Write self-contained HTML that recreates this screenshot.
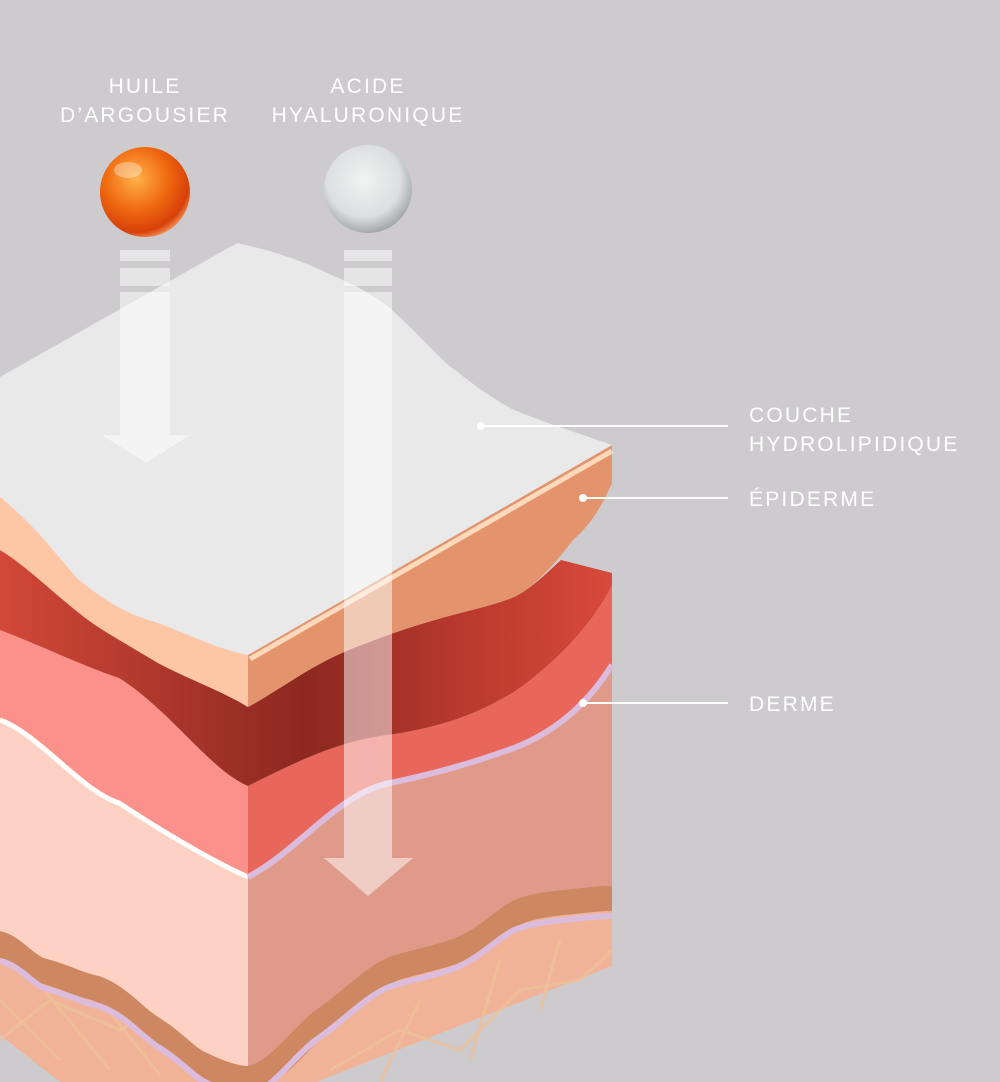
<!DOCTYPE html>
<html><head><meta charset="utf-8"><style>
html,body{margin:0;padding:0;background:#cdcbce;}
svg{display:block}
text{font-family:"Liberation Sans",sans-serif;fill:#fff;font-size:21px;letter-spacing:2.2px}
</style></head><body>
<svg width="1000" height="1082" viewBox="0 0 1000 1082" xmlns="http://www.w3.org/2000/svg">
<defs>
<radialGradient id="og" cx="0.4" cy="0.35" r="0.7">
<stop offset="0" stop-color="#ffb24a"/><stop offset="0.5" stop-color="#f06a10"/><stop offset="0.85" stop-color="#d8400a"/><stop offset="1" stop-color="#f7a060"/></radialGradient>
<radialGradient id="cg" cx="0.45" cy="0.4" r="0.7">
<stop offset="0" stop-color="#f2f3f3"/><stop offset="0.6" stop-color="#dcdedf"/><stop offset="0.9" stop-color="#9aa0a2"/><stop offset="1" stop-color="#e4e6e6"/></radialGradient>
<linearGradient id="dr" x1="0" y1="0" x2="1" y2="0">
<stop offset="0" stop-color="#d24838"/><stop offset="0.3" stop-color="#a8352a"/><stop offset="0.5" stop-color="#8c2820"/><stop offset="0.75" stop-color="#b8392d"/><stop offset="1" stop-color="#d84a3b"/></linearGradient>
</defs>
<rect width="1000" height="1082" fill="#cdcbce"/>

<path d="M0,900 L612,870 L612,966 L316,1082 L60,1082 L0,1035 Z" fill="#f1b397"/>
<g fill="none" stroke="#eec09a" stroke-width="3" opacity="0.8">
<path d="M0,1000 L60,1060 M40,985 L110,1070 M100,1000 L160,1075 M0,1040 L50,1000 L120,1030 L170,1000 M330,1070 L400,1030 L460,1050 L520,990 L580,980 L612,950 M380,1082 L420,1000 M470,1060 L500,960 M540,1010 L560,940"/>
</g>
<path d="M0,931 C20,935 35,957 47,959 C70,965 80,972 99,976 C125,985 140,1005 158,1017 C180,1030 195,1048 205,1052 C225,1062 240,1066 248,1066 C270,1062 295,1025 316,1010 C345,990 370,962 395,955 C420,948 440,944 455,938 C480,928 495,910 514,900 C535,892 555,891 573,889 C590,887 600,886 612,886" fill="none" stroke="#cd8862" stroke-width="50"/>
<path d="M0,931 C20,935 35,957 47,959 C70,965 80,972 99,976 C125,985 140,1005 158,1017 C180,1030 195,1048 205,1052 C225,1062 240,1066 248,1066 C270,1062 295,1025 316,1010 C345,990 370,962 395,955 C420,948 440,944 455,938 C480,928 495,910 514,900 C535,892 555,891 573,889 C590,887 600,886 612,886" fill="none" stroke="#dcbcdc" stroke-width="6" transform="translate(0,30)"/>

<path d="M0,720 C40,735 80,790 119,803 C160,830 210,860 248,874 L248,1066 C240,1066 225,1062 205,1052 C195,1048 180,1030 158,1017 C140,1005 125,985 99,976 C80,972 70,965 47,959 C35,957 20,935 0,931 Z" fill="#fdd2c4"/>
<path d="M248,874 C300,850 340,790 395,782 C450,770 480,760 514,748 C560,730 590,700 612,665 L612,886 C600,886 590,887 573,889 C555,891 535,892 514,900 C495,910 480,928 455,938 C440,944 420,948 395,955 C370,962 345,990 316,1010 C295,1025 270,1062 248,1066 Z" fill="#df9a8a"/>

<path d="M0,630 C40,645 80,665 119,678 C170,710 210,770 248,786 L248,877 C200,860 160,830 119,803 C80,790 40,735 0,720 Z" fill="#fb918a"/>
<path d="M248,786 C300,760 340,740 395,734 C450,725 480,712 514,692 C560,660 595,620 612,585 L612,665 C590,700 560,730 514,748 C480,760 450,770 395,782 C340,790 300,850 248,877 Z" fill="#e9665a"/>
<path d="M0,720 C40,735 80,790 119,803 C160,830 210,860 248,877" fill="none" stroke="#fff" stroke-width="5"/>
<path d="M248,877 C300,850 340,790 395,782 C450,770 480,760 514,748 C560,730 590,700 612,665" fill="none" stroke="#dcbcdc" stroke-width="6"/>

<path d="M0,550 C25,565 50,590 79,613 C100,630 120,640 158,663 C190,680 220,690 248,707 C280,690 310,665 356,647 C380,638 400,630 435,620 C460,612 490,607 514,597 C530,590 550,570 561,560 L612,573 L612,585 C595,620 560,660 514,692 C480,712 450,725 395,734 C340,740 300,760 248,786 C210,770 170,710 119,678 C80,665 40,645 0,630 Z" fill="url(#dr)"/>

<path d="M0,497 C40,530 60,560 79,580 C110,605 130,615 158,623 C190,635 220,650 248,655 L248,707 C220,690 190,680 158,663 C120,640 100,630 79,613 C50,590 25,565 0,550 Z" fill="#fdc6a4"/>
<path d="M248,655 L612,445 L612,483 C600,510 590,525 573,540 C550,570 530,590 514,597 C490,607 460,612 435,620 C400,630 380,638 356,647 C310,665 280,690 248,707 Z" fill="#e3946d"/>
<path d="M250,659 L612,451" stroke="#ffd9bc" stroke-width="5"/>

<path d="M0,377 L237,243 C290,255 310,265 336,277 C370,292 385,303 395,313 C420,335 440,360 455,370 C480,390 500,403 514,410 C560,428 590,437 612,445 L248,655 C220,650 190,635 158,623 C130,615 110,605 79,580 C60,560 40,530 0,497 Z" fill="#e9e9e9"/>

<g fill="#fff" opacity="0.5">
<rect x="120" y="250" width="50" height="11"/>
<rect x="120" y="268" width="50" height="18"/>
<path d="M120,292 L170,292 L170,435 L190,435 L146,463 L102,435 L120,435 Z"/>
<rect x="344" y="250" width="48" height="11"/>
<rect x="344" y="268" width="48" height="18"/>
<path d="M344,292 L392,292 L392,858 L413,858 L368,896 L324,858 L344,858 Z"/>
</g>

<circle cx="145" cy="192" r="45" fill="url(#og)"/>
<ellipse cx="128" cy="170" rx="14" ry="8" fill="#fff" opacity="0.35"/>
<circle cx="368" cy="189" r="44" fill="url(#cg)"/>

<text x="145" y="93" text-anchor="middle">HUILE</text>
<text x="145" y="122" text-anchor="middle">D’ARGOUSIER</text>
<text x="368" y="93" text-anchor="middle">ACIDE</text>
<text x="368" y="122" text-anchor="middle">HYALURONIQUE</text>
<text x="749" y="422">COUCHE</text>
<text x="749" y="451">HYDROLIPIDIQUE</text>
<text x="749" y="506">ÉPIDERME</text>
<text x="749" y="711">DERME</text>

<g stroke="#fff" stroke-width="2">
<line x1="481" y1="426" x2="728" y2="426"/>
<line x1="583" y1="498" x2="728" y2="498"/>
<line x1="583" y1="703" x2="728" y2="703"/>
</g>
<g fill="#fff">
<circle cx="481" cy="426" r="4"/><circle cx="583" cy="498" r="4"/><circle cx="583" cy="703" r="4"/>
</g>
</svg>
</body></html>
